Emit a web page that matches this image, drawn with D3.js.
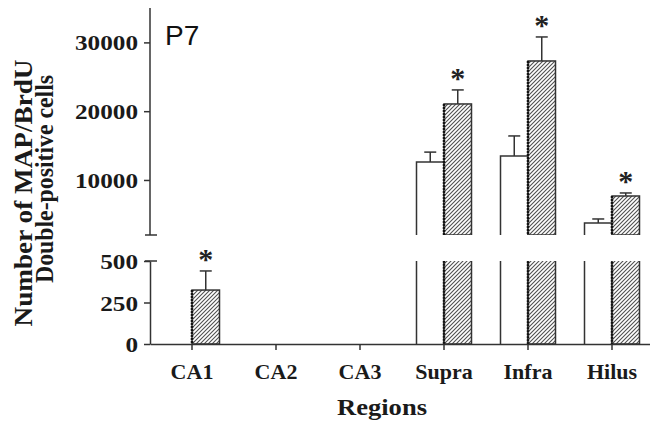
<!DOCTYPE html>
<html>
<head>
<meta charset="utf-8">
<script src="https://cdn.jsdelivr.net/npm/d3@7"></script>
<style>
  body { margin: 0; background: #fff; }
  #chart { width: 650px; height: 422px; }
  .serif { font-family: "Liberation Serif", "Times New Roman", Times, serif; font-weight: bold; }
  .axis text { font-family: "Liberation Serif", "Times New Roman", Times, serif; font-weight: bold; fill: #1a1a1a; }
  .axis path, .axis line { stroke: #333; stroke-width: 1.5; }
</style>
</head>
<body>
<div id="chart"></div>
<script>
// data
const regions = ["CA1", "CA2", "CA3", "Supra", "Infra", "Hilus"];
const controlMean = [0, 0, 0, 12600, 13500, 3750];
const controlErr  = [0, 0, 0, 1450, 2900, 580];
const treatedMean = [325, 0, 0, 21050, 27300, 7670];
const treatedErr  = [115, 0, 0, 2040, 3490, 440];
const significant = [true, false, false, true, true, true];
const topTicks = [10000, 20000, 30000];
const bottomTicks = [0, 250, 500];

const width = 650, height = 422;
const svg = d3.select("#chart").append("svg")
    .attr("width", width)
    .attr("height", height);

// hatch pattern for treated bars
const defs = svg.append("defs");
const pat = defs.append("pattern")
    .attr("id", "hatch")
    .attr("patternUnits", "userSpaceOnUse")
    .attr("width", 4).attr("height", 4);
pat.append("rect").attr("width", 4).attr("height", 4).attr("fill", "#fff");
pat.append("path")
    .attr("d", "M-1,1 l2,-2 M0,4 l4,-4 M3,5 l2,-2")
    .attr("stroke", "#505050").attr("stroke-width", 1.1);

/*
SCALES - broken y axis, two panels
*/
const axisX = 150;
const x = d3.scaleBand().domain(regions).range([axisX, axisX + 84 * 6]).padding(0);
const barW = 27.5;

const yTop = d3.scaleLinear().domain([2000, 35000]).range([235, 8]);
const yBot = d3.scaleLinear().domain([0, 500]).range([344, 261]);

// clip paths for each panel
defs.append("clipPath").attr("id", "clipTop")
    .append("rect").attr("x", axisX).attr("y", 0).attr("width", 520).attr("height", yTop(2000));
defs.append("clipPath").attr("id", "clipBot")
    .append("rect").attr("x", axisX).attr("y", yBot(500)).attr("width", 520).attr("height", yBot(0) - yBot(500));

const rows = regions.map(function(r, i) {
    return {region: r, c: controlMean[i], ce: controlErr[i], t: treatedMean[i], te: treatedErr[i], sig: significant[i]};
});

const stroke = "#333";

function drawPanel(g, y, lo) {
    rows.forEach(function(d) {
        const cx = x(d.region) + x.bandwidth() / 2;
        // control (white, open bottom)
        if (d.c > lo) {
            const yt = y(d.c);
            const yb = y(lo);
            const path = d3.path();
            path.moveTo(cx - barW, yb);
            path.lineTo(cx - barW, yt);
            path.lineTo(cx, yt);
            path.lineTo(cx, yb);
            g.append("rect")
                .attr("x", cx - barW).attr("y", yt)
                .attr("width", barW).attr("height", yb - yt)
                .attr("fill", "#fff");
            g.append("path").attr("d", path.toString())
                .attr("fill", "none").attr("stroke", stroke).attr("stroke-width", 1.5);
        }
        // treated (hatched)
        if (d.t > lo) {
            const yt = y(d.t);
            const yb = y(lo);
            g.append("rect")
                .attr("x", cx).attr("y", yt)
                .attr("width", barW).attr("height", yb - yt)
                .attr("fill", "url(#hatch)")
                .attr("stroke", stroke).attr("stroke-width", 1.5);
            g.append("line")
                .attr("x1", cx).attr("x2", cx).attr("y1", yt).attr("y2", yb)
                .attr("stroke", "#111").attr("stroke-width", 2.5)
                .attr("stroke-dasharray", "2,1");
        }
    });
}

const gTop = svg.append("g").attr("clip-path", "url(#clipTop)");
drawPanel(gTop, yTop, 2000);
const gBot = svg.append("g").attr("clip-path", "url(#clipBot)");
drawPanel(gBot, yBot, 0);

// error bars + stars
rows.forEach(function(d) {
    const cx = x(d.region) + x.bandwidth() / 2;
    [[d.c, d.ce, cx - barW / 2, false], [d.t, d.te, cx + barW / 2, d.sig]].forEach(function(b) {
        const m = b[0], e = b[1], bx = b[2];
        if (m <= 0) return;
        const y = m > 500 ? yTop : yBot;
        svg.append("line")
            .attr("x1", bx).attr("x2", bx).attr("y1", y(m)).attr("y2", y(m + e))
            .attr("stroke", stroke).attr("stroke-width", 1.5);
        svg.append("line")
            .attr("x1", bx - 6).attr("x2", bx + 6).attr("y1", y(m + e)).attr("y2", y(m + e))
            .attr("stroke", stroke).attr("stroke-width", 1.5);
        if (b[3]) {
            svg.append("text")
                .attr("class", "serif")
                .attr("x", bx).attr("y", y(m + e) - 2)
                .attr("text-anchor", "middle")
                .style("font-size", "30px")
                .attr("fill", "#222")
                .text("*");
        }
    });
});

/*
AXES
*/
const digitW = 12.6;
const yAxisTop = svg.append("g").attr("class", "axis")
    .attr("transform", `translate(${axisX},0)`)
    .call(d3.axisLeft(yTop).tickValues(topTicks).tickFormat(d3.format("d"))
        .tickSizeInner(6).tickSizeOuter(0).tickPadding(6));
const yAxisBot = svg.append("g").attr("class", "axis")
    .attr("transform", `translate(${axisX},0)`)
    .call(d3.axisLeft(yBot).tickValues(bottomTicks).tickFormat(d3.format("d"))
        .tickSizeInner(6).tickSizeOuter(0).tickPadding(6));
[yAxisTop, yAxisBot].forEach(function(a) {
    a.selectAll("text")
        .style("font-size", "21px")
        .attr("dy", "0.36em")
        .attr("textLength", function() { return this.textContent.length * digitW; })
        .attr("lengthAdjust", "spacingAndGlyphs");
});
yAxisTop.select(".domain").attr("d", `M0,${yTop(2000)}V8`);

// break caps
[yTop(2000), yBot(500)].forEach(function(yy) {
    svg.append("line")
        .attr("x1", axisX - 5).attr("x2", axisX + 7).attr("y1", yy).attr("y2", yy)
        .attr("stroke", stroke).attr("stroke-width", 1.5);
});

const xAxis = svg.append("g").attr("class", "axis")
    .attr("transform", `translate(0,${yBot(0)})`)
    .call(d3.axisBottom(x).tickSizeInner(6).tickSizeOuter(0).tickPadding(13));
xAxis.selectAll("text").style("font-size", "22px");

/*
LABELS
*/
svg.append("text")
    .attr("class", "serif")
    .attr("x", 382).attr("y", 415)
    .attr("text-anchor", "middle")
    .attr("textLength", 90).attr("lengthAdjust", "spacingAndGlyphs")
    .style("font-size", "23px")
    .attr("fill", "#1a1a1a")
    .text("Regions");

const yTitle = [
    {text: "Number of MAP/BrdU", x: 32, y: 193, len: 267},
    {text: "Double-positive cells", x: 53, y: 179, len: 208}
];
yTitle.forEach(function(t) {
    svg.append("text")
        .attr("class", "serif")
        .attr("transform", `translate(${t.x},${t.y}) rotate(-90)`)
        .attr("text-anchor", "middle")
        .attr("textLength", t.len).attr("lengthAdjust", "spacingAndGlyphs")
        .style("font-size", "26px")
        .attr("fill", "#1a1a1a")
        .text(t.text);
});

svg.append("text")
    .attr("x", 165).attr("y", 45)
    .style("font-family", "'Liberation Sans', Arial, sans-serif").style("font-size", "28px")
    .attr("fill", "#111")
    .text("P7");
</script>
</body>
</html>
